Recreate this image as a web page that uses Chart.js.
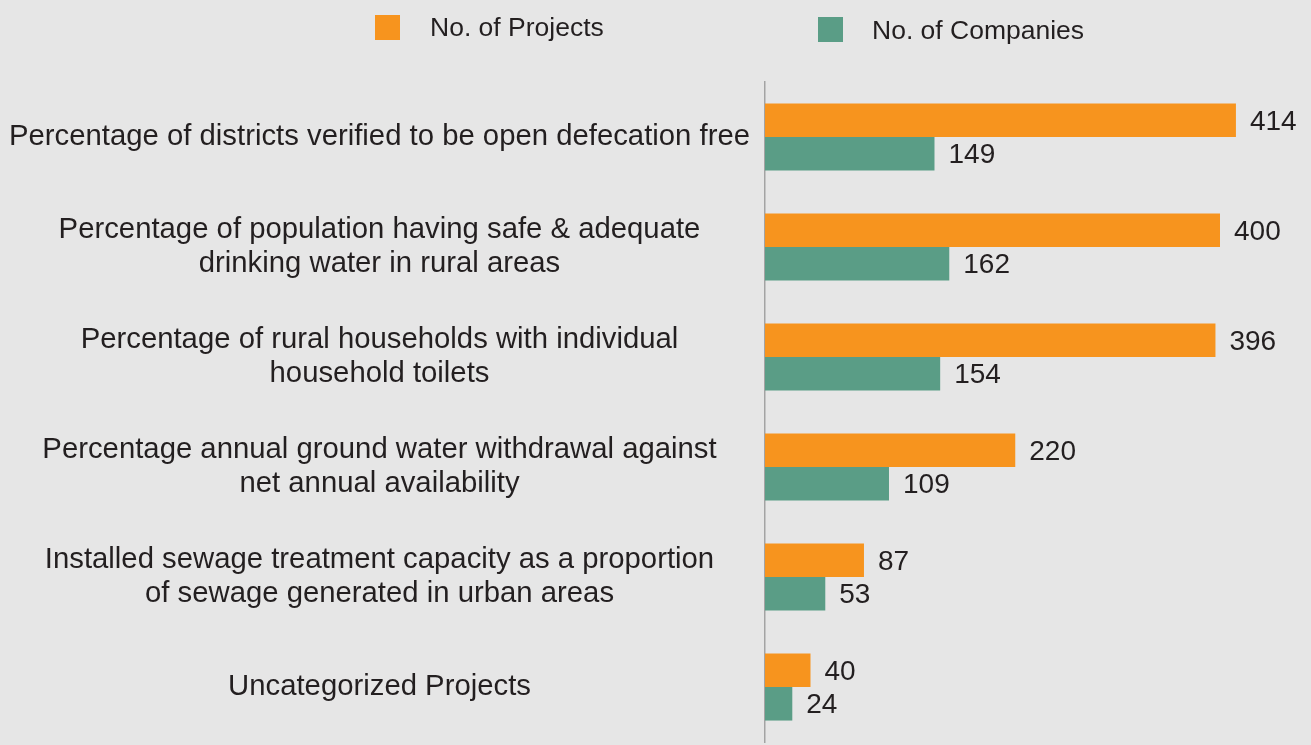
<!DOCTYPE html>
<html>
<head>
<meta charset="utf-8">
<script src="https://cdn.jsdelivr.net/npm/chart.js@4"></script>
<style>
  html, body { margin: 0; padding: 0; background: #e6e6e6; }
  #wrap { position: relative; width: 1311px; height: 745px; background: #e6e6e6; }
  .key { position: absolute; font-family: 'Liberation Sans', Arial, sans-serif; font-size: 26.5px; color: #231f20; line-height: 26px; }
  .swatch { position: absolute; width: 25px; height: 25px; }
</style>
</head>
<body>
<div id="wrap">
  <div class="swatch" style="left:375px; top:15px; background:#f7941e;"></div>
  <div class="key" style="left:430px; top:14px;">No. of Projects</div>
  <div class="swatch" style="left:818px; top:17px; background:#5a9d86;"></div>
  <div class="key" style="left:872px; top:17px;">No. of Companies</div>
  <canvas id="barChart"></canvas>
</div>
<script>
const categories = [
  ['Percentage of districts verified to be open defecation free'],
  ['Percentage of population having safe & adequate', 'drinking water in rural areas'],
  ['Percentage of rural households with individual', 'household toilets'],
  ['Percentage annual ground water withdrawal against', 'net annual availability'],
  ['Installed sewage treatment capacity as a proportion', 'of sewage generated in urban areas'],
  ['Uncategorized Projects']
];
const projects = [414, 400, 396, 220, 87, 40];
const companies = [149, 162, 154, 109, 53, 24];

const textColor = '#231f20';
const fontFamily = "'Liberation Sans', Arial, sans-serif";

// writes the value just past the end of each bar
const valueLabels = {
  id: 'valueLabels',
  afterDatasetsDraw(chart) {
    const ctx = chart.ctx;
    ctx.save();
    ctx.font = '28px ' + fontFamily;
    ctx.fillStyle = textColor;
    ctx.textAlign = 'left';
    ctx.textBaseline = 'middle';
    chart.data.datasets.forEach((ds, i) => {
      chart.getDatasetMeta(i).data.forEach((bar, j) => {
        ctx.fillText(String(ds.data[j]), bar.x + 14, bar.y + 2);
      });
    });
    ctx.restore();
  }
};

const barData = {
  labels: categories,
  datasets: [{
    label: 'No. of Projects',
    data: projects,
    backgroundColor: '#f7941e',
    borderWidth: 0
  }, {
    label: 'No. of Companies',
    data: companies,
    backgroundColor: '#5a9d86',
    borderWidth: 0
  }]
};

const barOptions = {
  indexAxis: 'y',
  responsive: true,
  maintainAspectRatio: false,
  animation: false,
  layout: {
    padding: { top: 82, bottom: 3, left: 0, right: 0 }
  },
  datasets: {
    bar: {
      categoryPercentage: 0.61,
      barPercentage: 1
    }
  },
  scales: {
    x: {
      display: false,
      min: 0,
      max: 480
    },
    y: {
      afterFit(scale) {
        scale.width = 765;
        // labels are not allowed to push the plot area in
        scale.paddingTop = 0;
        scale.paddingBottom = 0;
      },
      grid: { display: false, drawTicks: false },
      border: { display: true, color: '#a3a3a3', width: 1.5 },
      ticks: {
        crossAlign: 'center',
        padding: 15,
        color: textColor,
        font: { family: fontFamily, size: 29.3, lineHeight: 1.16 }
      }
    }
  },
  plugins: {
    legend: { display: false },
    tooltip: { enabled: false }
  }
};

const barChart = new Chart(document.getElementById('barChart'), {
  type: 'bar',
  data: barData,
  options: barOptions,
  plugins: [valueLabels]
});
</script>
</body>
</html>
